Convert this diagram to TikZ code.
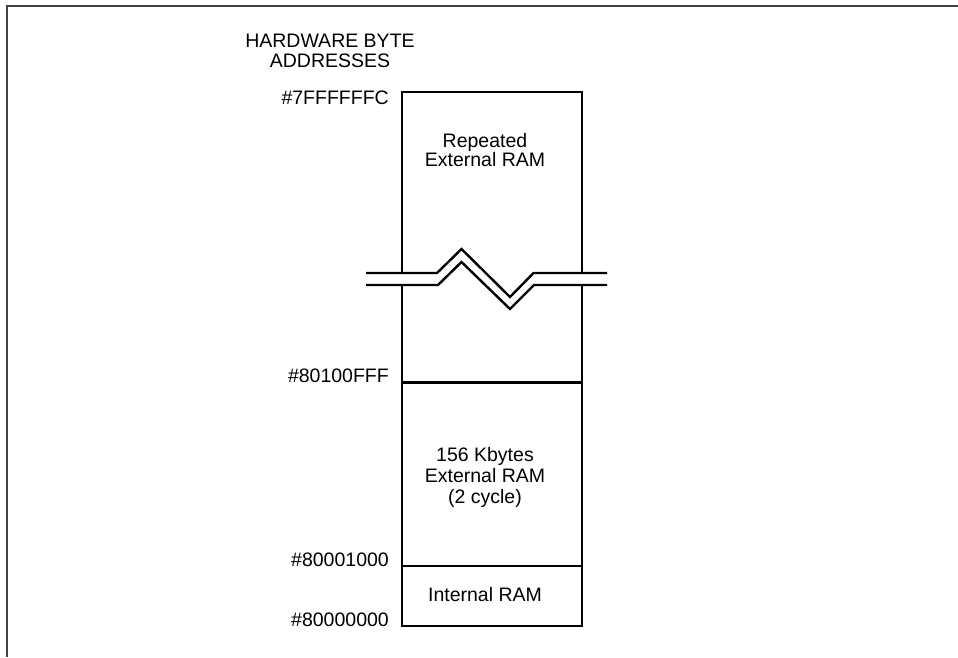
\documentclass[tikz,border=0pt]{standalone}
\usepackage{fontspec}
\setmainfont{Liberation Sans}
\begin{document}
\begin{tikzpicture}[x=1pt,y=-1pt,
  lbl/.style={font=\fontsize{19.5}{21}\selectfont, inner sep=0pt},
  addr/.style={lbl, anchor=base east},
  inbox/.style={lbl, anchor=base},
  wall/.style={line width=2.4pt, line join=miter}]
\useasboundingbox (0,0) rectangle (958,657);
% frame
\draw[line width=1.5pt, black!75] (958,6) -- (7,6) -- (7,657);
% memory column corners
\coordinate (tl) at (402,92);
\coordinate (tr) at (582,92);
\coordinate (bl) at (402,626);
\coordinate (br) at (582,626);
\coordinate (lu) at (402,273);
\coordinate (ru) at (582,273);
\coordinate (ll) at (402,285);
\coordinate (rl) at (582,285);
\coordinate (d1l) at (402,382.5);
\coordinate (d1r) at (582,382.5);
\coordinate (d2l) at (402,566);
\coordinate (d2r) at (582,566);
\draw[wall] (lu) -- (tl) -- (tr) -- (ru);
\draw[wall] (ll) -- (bl) -- (br) -- (rl);
\draw[wall] (d1l) -- (d1r);
\draw[wall] (d2l) -- (d2r);
% break symbol
\draw[wall] (366,273) -- (437,273) -- (461.5,249) -- (510,297) -- (533.5,273) -- (607,273);
\draw[wall] (366,285) -- (438,285) -- (461.5,262) -- (510,309) -- (534,285) -- (607,285);
% header
\node[lbl, anchor=base] (h1) at (330,47.5) {HARDWARE BYTE};
\node[lbl, anchor=base] (h2) at (330,67) {ADDRESSES};
% addresses
\node[addr] (a1) at (389,104) {\#7FFFFFFC};
\node[addr] (a2) at (389,382.5) {\#80100FFF};
\node[addr] (a3) at (389,566) {\#80001000};
\node[addr] (a4) at (389,626) {\#80000000};
% region texts
\node[inbox] (r1a) at (485,147) {Repeated};
\node[inbox] (r1b) at (485,166.5) {External RAM};
\node[inbox] (r2a) at (485,461) {156 Kbytes};
\node[inbox] (r2b) at (485,482) {External RAM};
\node[inbox] (r2c) at (485,503) {(2 cycle)};
\node[inbox] (r3) at (485,601) {Internal RAM};
\end{tikzpicture}
\end{document}
